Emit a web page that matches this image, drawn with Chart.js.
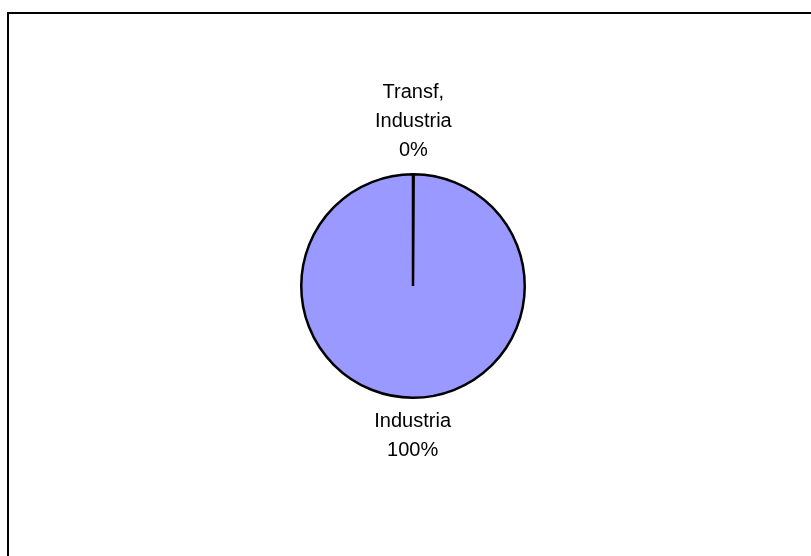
<!DOCTYPE html>
<html>
<head>
<meta charset="utf-8">
<script src="https://cdn.jsdelivr.net/npm/chart.js@4/dist/chart.umd.min.js"></script>
<style>
html, body { margin: 0; padding: 0; background: #fff; }
#wrap { position: absolute; left: 0; top: 0; width: 811px; height: 556px; }
</style>
</head>
<body>
<div id="wrap"><canvas id="myChart" width="811" height="556"></canvas></div>
<script>
// data
var categories = ['Transf, Industria', 'Industria'];
var shares = [0.1, 99.9];
var sliceColors = ['#9999FF', '#9999FF'];

var ctx = document.getElementById('myChart').getContext('2d');

// frame round the chart (only left and top edges are inside the window)
var framePlugin = {
    id: 'frame',
    beforeDraw: function(chart) {
        var c = chart.ctx;
        c.save();
        c.strokeStyle = '#000';
        c.lineWidth = 2;
        c.beginPath();
        c.moveTo(8, 600);
        c.lineTo(8, 13);
        c.lineTo(900, 13);
        c.stroke();
        c.restore();
    }
};

// category + percent labels outside each slice
var labelPlugin = {
    id: 'sliceLabels',
    afterDatasetsDraw: function(chart) {
        var c = chart.ctx;
        var meta = chart.getDatasetMeta(0);
        var data = chart.data.datasets[0].data;
        var total = 0;
        data.forEach(function(v){ total += v; });
        c.save();
        c.font = '20px "Liberation Sans", Arial, sans-serif';
        c.fillStyle = '#000';
        c.textAlign = 'center';
        c.textBaseline = 'alphabetic';
        meta.data.forEach(function(arc, i) {
            var mid = (arc.startAngle + arc.endAngle) / 2;
            var r = arc.outerRadius;
            var lines = chart.data.labels[i].split(' ');
            lines.push(Math.round(data[i] / total * 100) + '%');
            var x = arc.x + Math.cos(mid) * r;
            var y = arc.y + Math.sin(mid) * r;
            var lh = 29;
            for (var k = 0; k < lines.length; k++) {
                var by;
                if (Math.sin(mid) < 0) {
                    by = y - 18 - (lines.length - 1 - k) * lh;
                } else {
                    by = y + 29 + k * lh;
                }
                c.fillText(lines[k], x, by);
            }
        });
        c.restore();
    }
};

var chart_config = {
    type: 'pie',
    data: {
        labels: categories,
        datasets: [{
            data: shares,
            backgroundColor: sliceColors,
            borderColor: '#000',
            borderWidth: 2.5
        }]
    },
    options: {
        responsive: false,
        animation: false,
        layout: { padding: { left: 300, right: 285, top: 173, bottom: 157 } },
        plugins: {
            legend: { display: false },
            tooltip: { enabled: false }
        }
    },
    plugins: [framePlugin, labelPlugin]
};
var myPie = new Chart(ctx, chart_config);
</script>
</body>
</html>
